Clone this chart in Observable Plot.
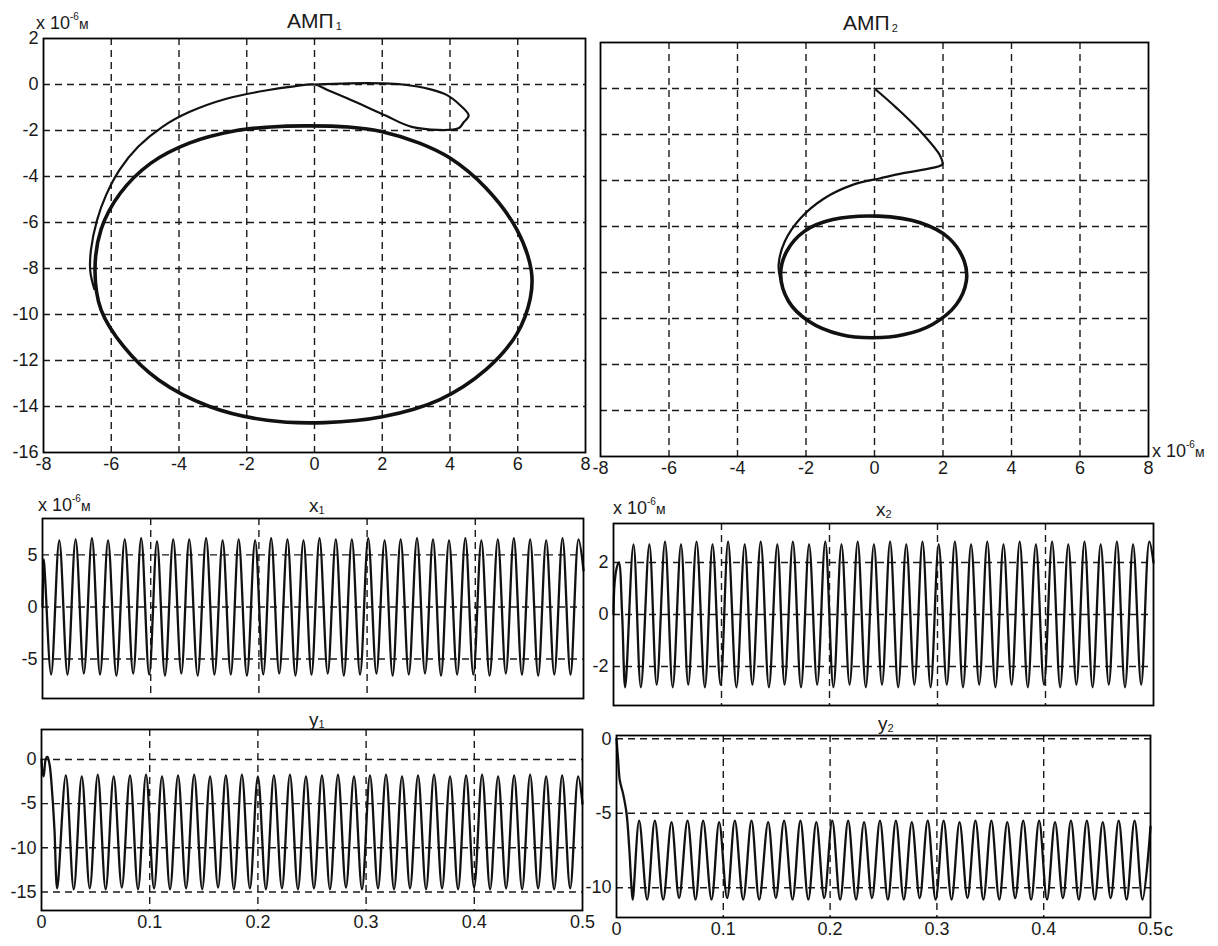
<!DOCTYPE html>
<html><head><meta charset="utf-8">
<script src="https://cdn.jsdelivr.net/npm/d3@7"></script>
<script src="https://cdn.jsdelivr.net/npm/@observablehq/plot@0.6"></script>
<style>
body{margin:0;background:#fff;}
#fig{position:relative;width:1218px;height:946px;background:#fff;font-family:"Liberation Sans",Arial,sans-serif;color:#1a1a1a;overflow:hidden;}
.t{position:absolute;white-space:nowrap;line-height:1;}
.t sup{font-size:10px;vertical-align:9px;}
.t sub{font-size:11px;vertical-align:-2px;}
</style></head><body><div id="fig"></div>
<script>
// ---- tick values ----
const orbitTicksX = [-8,-6,-4,-2,0,2,4,6,8];
const orbitTicksY = [2,0,-2,-4,-6,-8,-10,-12,-14,-16];
const timeTicks = [0,0.1,0.2,0.3,0.4,0.5];
const x1Ticks = [5,0,-5];
const x2Ticks = [2,0,-2];
const y1Ticks = [0,-5,-10,-15];
const y2Ticks = [0,-5,-10];

// ---- АМП1 orbit (x1, y1), ×10^-6 м ----
const amp1Transient = [[0,0],[1,0.05],[2,0.05],[2.6,0],[3.4,-0.2],[3.9,-0.45],[4.3,-0.9],[4.55,-1.35],[4.4,-1.65],[4.25,-1.9],[2.9,-1.85],[2.1,-1.35],[1.2,-0.75],[0.4,-0.25],[0,0],
  [-0.6,-0.08],[-1.4,-0.25],[-2.6,-0.62],[-3.7,-1.2],[-4.5,-1.85],[-5.2,-2.7],[-5.75,-3.7],[-6.15,-4.8],[-6.42,-5.9],[-6.6,-7.2],[-6.62,-8.1],[-6.5,-8.9]];
const amp1Cycle = [[-0.3,-1.8],[1,-1.85],[2,-2.05],[3.1,-2.55],[4,-3.2],[5.06,-4.5],[5.97,-6.3],[6.4,-8.1],[6.37,-9.3],[5.97,-10.85],[5.06,-12.4],[3.7,-13.7],[2,-14.45],[0.3,-14.7],[-1.4,-14.6],[-3.1,-14.0],[-4.6,-12.85],[-5.63,-11.4],[-6.3,-9.8],[-6.48,-8.1],[-6.3,-6.3],[-5.74,-4.74],[-4.84,-3.43],[-3.7,-2.55],[-2.3,-2.0],[-1.3,-1.85]];

// ---- АМП2 orbit (x2, y2), ×10^-6 м ----
const amp2Transient = [[0,0],[0.64,-0.84],[1.34,-1.86],[1.92,-2.93],[1.98,-3.3],[1.69,-3.45],[0.87,-3.67],[0.17,-3.9],[-0.64,-4.19],[-1.46,-4.77],[-2.16,-5.64],[-2.62,-6.65],[-2.8,-7.67],[-2.75,-8.3]];
const amp2Cycle = [[0.12,-5.55],[1.34,-5.84],[2.16,-6.49],[2.62,-7.51],[2.68,-8.38],[2.39,-9.39],[1.69,-10.26],[0.87,-10.7],[-0.06,-10.84],[-0.99,-10.7],[-1.92,-10.12],[-2.51,-9.25],[-2.74,-8.09],[-2.56,-7.07],[-2.04,-6.2],[-1.22,-5.7]];

// ---- time series: [time ms, value ×10^-6 м] at extrema ----
const x1Samples = [[0,0],[1.2,4.6],[2.4,2.8],[8.0,-6.5],
 [15.5,6.4],[23.1,-6.5],[30.6,6.5],[38.2,-6.4],[45.7,6.6],[53.2,-6.5],[60.6,6.4],[68.3,-6.6],[76.0,6.5],[83.8,-6.4],[91.2,6.6],[98.6,-6.5],[105.8,6.3],[113.2,-6.6],[120.8,6.5],[128.3,-6.4],[135.6,6.5],[143.4,-6.6],[151.2,6.6],[158.9,-6.5],[166.5,6.4],[174.0,-6.5],[181.3,6.5],[188.9,-6.6],[196.5,6.4],[204.0,-6.5],[211.3,6.6],[218.8,-6.4],[226.4,6.5],[233.8,-6.6],[241.2,6.4],[248.6,-6.5],[256.0,6.6],[263.6,-6.4],[271.1,6.5],[278.5,-6.6],[285.9,6.5],[293.5,-6.5],[301.0,6.6],[308.6,-6.4],[316.2,6.4],[323.6,-6.6],[331.0,6.5],[338.5,-6.5],[346.1,6.6],[353.5,-6.4],[360.9,6.5],[368.3,-6.6],[375.7,6.4],[383.2,-6.5],[390.8,6.6],[398.2,-6.5],[405.6,6.4],[413.2,-6.6],[420.8,6.5],[428.2,-6.4],[435.6,6.6],[443.1,-6.5],[450.7,6.5],[458.1,-6.6],[465.5,6.4],[473.0,-6.5],[480.6,6.6],[488.0,-6.5],[495.4,6.5],[500,3.5]];
const y1Samples = [[0,0],[1.0,-1.5],[2.0,-1.9],[4.0,0.1],[5.5,0.3],[7.5,-0.6],[10.0,-4.0],[12.0,-8.0],[14.5,-14.6],
 [22.5,-1.8],[29.8,-14.7],[37.2,-1.9],[44.6,-14.6],[52.0,-1.7],[59.3,-14.7],[66.7,-1.9],[74.2,-14.5],[81.8,-1.8],[89.2,-14.7],[96.6,-1.7],[104.0,-14.6],[111.4,-1.9],[118.8,-14.7],[126.2,-1.8],[133.6,-14.6],[141.1,-1.7],[148.5,-14.7],[155.8,-1.9],[163.2,-14.5],[170.4,-1.8],[177.8,-14.7],[185.2,-1.7],[192.6,-14.6],[200.0,-1.9],[207.4,-14.7],[214.8,-1.8],[222.2,-14.6],[229.6,-1.7],[237.0,-14.7],[244.4,-1.9],[251.8,-14.6],[259.2,-1.8],[266.6,-14.7],[274.0,-1.7],[281.4,-14.5],[288.8,-1.9],[296.2,-14.7],[303.6,-1.8],[311.0,-14.6],[318.4,-1.7],[325.8,-14.7],[333.2,-1.9],[340.6,-14.6],[348.0,-1.8],[355.4,-14.7],[362.8,-1.7],[370.2,-14.6],[377.6,-1.9],[385.0,-14.7],[392.4,-1.8],[399.8,-14.5],[407.2,-1.7],[414.6,-14.7],[422.0,-1.9],[429.4,-14.6],[436.8,-1.8],[444.2,-14.7],[451.6,-1.7],[459.0,-14.6],[466.4,-1.9],[473.8,-14.7],[481.2,-1.8],[488.6,-14.6],[496.0,-1.9],[500,-5.0]];
const x2Samples = [[0,0],[1.0,1.2],[3.0,1.8],[5.0,2.0],[8.0,0],[10.8,-2.8],
 [18.5,2.7],[25.3,-2.8],[33.2,2.7],[40.0,-2.7],[47.7,2.8],[54.8,-2.8],[62.5,2.7],[69.2,-2.7],[76.9,2.8],[84.6,-2.8],[91.7,2.7],[99.1,-2.7],[106.1,2.8],[113.8,-2.8],[121.5,2.7],[128.6,-2.7],[136.3,2.8],[143.9,-2.8],[151.7,2.7],[158.4,-2.7],[166.1,2.8],[173.6,-2.8],[181.1,2.7],[188.6,-2.7],[196.1,2.8],[203.6,-2.8],[211.1,2.7],[218.6,-2.7],[226.1,2.8],[233.6,-2.8],[241.1,2.7],[248.6,-2.7],[256.1,2.8],[263.6,-2.8],[271.1,2.7],[278.6,-2.7],[286.1,2.8],[293.6,-2.8],[301.1,2.7],[308.6,-2.7],[316.1,2.8],[323.6,-2.8],[331.1,2.7],[338.6,-2.7],[346.1,2.8],[353.6,-2.8],[361.1,2.7],[368.6,-2.7],[376.1,2.8],[383.6,-2.8],[391.1,2.7],[398.6,-2.7],[406.1,2.8],[413.6,-2.8],[421.1,2.7],[428.6,-2.7],[436.1,2.8],[443.6,-2.8],[451.1,2.7],[458.6,-2.7],[466.1,2.8],[473.6,-2.8],[481.1,2.7],[488.6,-2.7],[496.1,2.8],[500,2.0]];
const y2Samples = [[0,0],[1.6,-1.5],[3.1,-2.8],[6.2,-3.7],[9.4,-5.0],[11.9,-7.3],[14.1,-10.0],[15.2,-10.8],
 [21.2,-5.5],[28.7,-10.8],[35.9,-5.5],[43.7,-10.8],[51.5,-5.6],[58.6,-10.7],[66.5,-5.5],[74.0,-10.8],[81.1,-5.5],[89.0,-10.8],[96.1,-5.6],[103.6,-10.7],[110.8,-5.5],[118.6,-10.8],[126.4,-5.5],[133.6,-10.8],[142.0,-5.6],[149.2,-10.7],[156.9,-5.5],[164.8,-10.8],[172.2,-5.5],[179.6,-10.8],[187.1,-5.6],[194.5,-10.7],[202.0,-5.5],[209.4,-10.8],[216.9,-5.5],[224.3,-10.8],[231.8,-5.6],[239.2,-10.7],[246.7,-5.5],[254.1,-10.8],[261.6,-5.5],[269.0,-10.8],[276.5,-5.6],[283.9,-10.7],[291.4,-5.5],[298.8,-10.8],[306.3,-5.5],[313.7,-10.8],[321.2,-5.6],[328.6,-10.7],[336.1,-5.5],[343.5,-10.8],[351.0,-5.5],[358.4,-10.8],[365.9,-5.6],[373.3,-10.7],[380.8,-5.5],[388.2,-10.8],[395.7,-5.5],[403.1,-10.8],[410.6,-5.6],[418.0,-10.7],[425.5,-5.5],[432.9,-10.8],[440.4,-5.5],[447.8,-10.8],[455.3,-5.6],[462.7,-10.7],[470.2,-5.5],[477.6,-10.8],[485.1,-5.5],[492.5,-10.8],[500,-5.9]];

// ---- drawing ----
const fig = document.getElementById("fig");
const FONT = '"Liberation Sans", Arial, sans-serif';
const gridStyle = {stroke: "#1a1a1a", strokeOpacity: 1, strokeWidth: 1.4, strokeDasharray: "7,5"};
const inner = (ticks, dom) => ticks.filter(t => t > Math.min(...dom) + 1e-9 && t < Math.max(...dom) - 1e-9);
const fmt = d => String(d);

function panel(c) {
  const marks = [
    Plot.gridX({ticks: inner(c.gridX, c.xDomain), ...gridStyle}),
    Plot.gridY({ticks: inner(c.gridY, c.yDomain), ...gridStyle}),
    ...c.lines,
    Plot.frame({stroke: "#000", strokeWidth: 1.8})
  ];
  if (c.axisX) marks.push(Plot.axisX({ticks: c.axisX, tickSize: 0, tickPadding: 5, fontSize: 18, label: null, tickFormat: fmt}));
  if (c.axisY) marks.push(Plot.axisY({ticks: c.axisY, tickSize: 0, tickPadding: 5, fontSize: 18, label: null, tickFormat: fmt}));
  const svg = Plot.plot({
    width: c.fw + c.ml + c.mr, height: c.fh + c.mt + c.mb,
    marginLeft: c.ml, marginRight: c.mr, marginTop: c.mt, marginBottom: c.mb,
    x: {domain: c.xDomain, axis: null},
    y: {domain: c.yDomain, axis: null},
    style: {fontFamily: FONT, fontSize: "18px", background: "none", overflow: "visible", color: "#1a1a1a"},
    marks
  });
  svg.style.position = "absolute";
  svg.style.left = (c.fx - c.ml) + "px";
  svg.style.top = (c.fy - c.mt) + "px";
  fig.append(svg);
}

const orbitLine = (pts, w, closed) => Plot.line(pts, {x: d => d[0], y: d => d[1], curve: closed ? "catmull-rom-closed" : "catmull-rom", stroke: "#111", strokeWidth: w});
const timeLine = pts => Plot.line(pts, {x: d => d[0] / 1000, y: d => d[1], curve: "catmull-rom", stroke: "#111", strokeWidth: 2.3});

// АМП1
panel({fx: 43, fy: 38, fw: 542, fh: 414, ml: 43, mr: 20, mt: 8, mb: 30,
  xDomain: [-8, 8], yDomain: [-16, 2], gridX: orbitTicksX, gridY: orbitTicksY, axisX: orbitTicksX, axisY: orbitTicksY,
  lines: [orbitLine(amp1Transient, 2.2, false), orbitLine(amp1Cycle, 3.6, true)]});
// АМП2
panel({fx: 600, fy: 42, fw: 548, fh: 414, ml: 10, mr: 20, mt: 8, mb: 30,
  xDomain: [-8, 8], yDomain: [-16, 2], gridX: orbitTicksX, gridY: orbitTicksY, axisX: orbitTicksX, axisY: null,
  lines: [orbitLine(amp2Transient, 2.2, false), orbitLine(amp2Cycle, 3.6, true)]});
// x1
panel({fx: 42, fy: 518, fw: 541, fh: 180, ml: 42, mr: 10, mt: 6, mb: 8,
  xDomain: [0, 0.5], yDomain: [-8.8, 8.5], gridX: timeTicks, gridY: x1Ticks, axisX: null, axisY: x1Ticks,
  lines: [timeLine(x1Samples)]});
// x2
panel({fx: 613, fy: 523, fw: 540, fh: 182, ml: 40, mr: 10, mt: 6, mb: 8,
  xDomain: [0, 0.5], yDomain: [-3.5, 3.5], gridX: timeTicks, gridY: x2Ticks, axisX: null, axisY: x2Ticks,
  lines: [timeLine(x2Samples)]});
// y1
panel({fx: 41, fy: 729, fw: 541, fh: 181, ml: 41, mr: 15, mt: 6, mb: 30,
  xDomain: [0, 0.5], yDomain: [-17.1, 3.4], gridX: timeTicks, gridY: y1Ticks, axisX: timeTicks, axisY: y1Ticks,
  lines: [timeLine(y1Samples)]});
// y2
panel({fx: 616, fy: 735, fw: 534, fh: 182, ml: 40, mr: 15, mt: 6, mb: 30,
  xDomain: [0, 0.5], yDomain: [-12, 0.22], gridX: timeTicks, gridY: y2Ticks, axisX: timeTicks, axisY: y2Ticks,
  lines: [timeLine(y2Samples)]});

// ---- text labels ----
function label(html, left, top, size) {
  const d = document.createElement("div");
  d.className = "t";
  d.style.left = left + "px"; d.style.top = top + "px"; d.style.fontSize = size + "px";
  d.innerHTML = html;
  fig.append(d);
}
const unit = 'x 10<sup>-6</sup><span style="font-size:14px">м</span>';
label(unit, 36, 12, 18);
label('АМП<sub>&#8201;1</sub>', 287, 10, 21);
label('АМП<sub>&#8201;2</sub>', 843, 12, 21);
label(unit, 1152, 440, 18);
label(unit, 38, 494, 18);
label('x<sub>1</sub>', 309, 496, 19);
label(unit, 613, 497, 18);
label('x<sub>2</sub>', 876, 500, 19);
label('y<sub>1</sub>', 309, 710, 19);
label('y<sub>2</sub>', 878, 714, 19);
label('c', 1164, 921, 18);
</script></body></html>
